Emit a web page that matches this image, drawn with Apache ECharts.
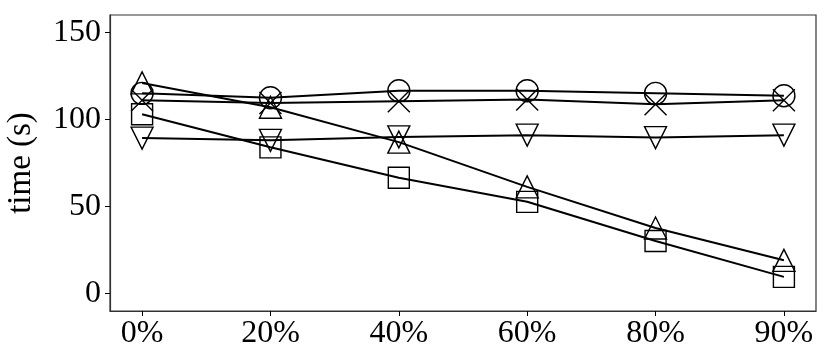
<!DOCTYPE html>
<html>
<head>
<meta charset="utf-8">
<script src="https://cdn.jsdelivr.net/npm/echarts@6/dist/echarts.min.js"></script>
<style>html,body{margin:0;padding:0;background:#fff}#c{width:831px;height:363px}</style>
</head>
<body>
<div id="c"></div>
<script>
const categories = ['0%', '20%', '40%', '60%', '80%', '90%'];
const yTicks = [0, 50, 100, 150];
const circleVals = [115, 112.5, 116.5, 116.5, 115, 113.6];
const crossVals = [111, 109.5, 110.5, 111.5, 108.8, 111];
const triDownVals = [89.3, 88, 90, 91, 89.6, 91];
const triUpVals = [121, 107, 87, 61.3, 37.7, 19.1];
const squareVals = [103, 84, 66.5, 52.7, 30.2, 9.6];

const font = 'Liberation Serif';
const chart = echarts.init(document.getElementById('c'), null, {renderer: 'canvas'});

function mk(name, vals, symbol, size, rotate) {
  return {
    name: name,
    type: 'line',
    data: vals.map((v, i) => [i, v]),
    symbol: symbol,
    symbolSize: size,
    symbolRotate: rotate || 0,
    showAllSymbol: true,
    lineStyle: {color: '#000', width: 2},
    itemStyle: {color: 'rgba(0,0,0,0)', borderColor: '#000', borderWidth: 1.4},
    emphasis: {disabled: true},
    animation: false,
    z: 2
  };
}

chart.setOption({
  animation: false,
  backgroundColor: '#fff',
  grid: {left: 110, top: 15, right: 15, bottom: 52, show: true, borderColor: '#333', borderWidth: 1.2, containLabel: false, outerBoundsMode: 'none'},
  xAxis: {
    type: 'value', min: -0.25, max: 5.25,
    splitLine: {show: false},
    axisLine: {show: true, onZero: false, lineStyle: {color: '#333', width: 1.2}},
    axisTick: {show: true, customValues: [0, 1, 2, 3, 4, 5], length: 5, lineStyle: {color: '#000', width: 1}},
    axisLabel: {customValues: [0, 1, 2, 3, 4, 5], formatter: v => categories[Math.round(v)], fontFamily: font, fontSize: 32, color: '#000', margin: 7}
  },
  yAxis: {
    type: 'value', min: -10, max: 160,
    name: 'time (s)', nameLocation: 'middle', nameGap: 72,
    nameTextStyle: {fontFamily: font, fontSize: 33, color: '#000'},
    splitLine: {show: false},
    axisLine: {show: true, onZero: false, lineStyle: {color: '#333', width: 1.2}},
    axisTick: {show: true, customValues: yTicks, length: 5, lineStyle: {color: '#000', width: 1}},
    axisLabel: {customValues: yTicks, fontFamily: font, fontSize: 32, color: '#000', margin: 9}
  },
  series: [
    mk('circle', circleVals, 'circle', 22),
    mk('cross', crossVals, 'path://M0,0L10,10M10,0L0,10', 22),
    mk('triDown', triDownVals, 'triangle', 22, 180),
    mk('triUp', triUpVals, 'triangle', 22),
    mk('square', squareVals, 'rect', 21)
  ]
});
</script>
</body>
</html>
